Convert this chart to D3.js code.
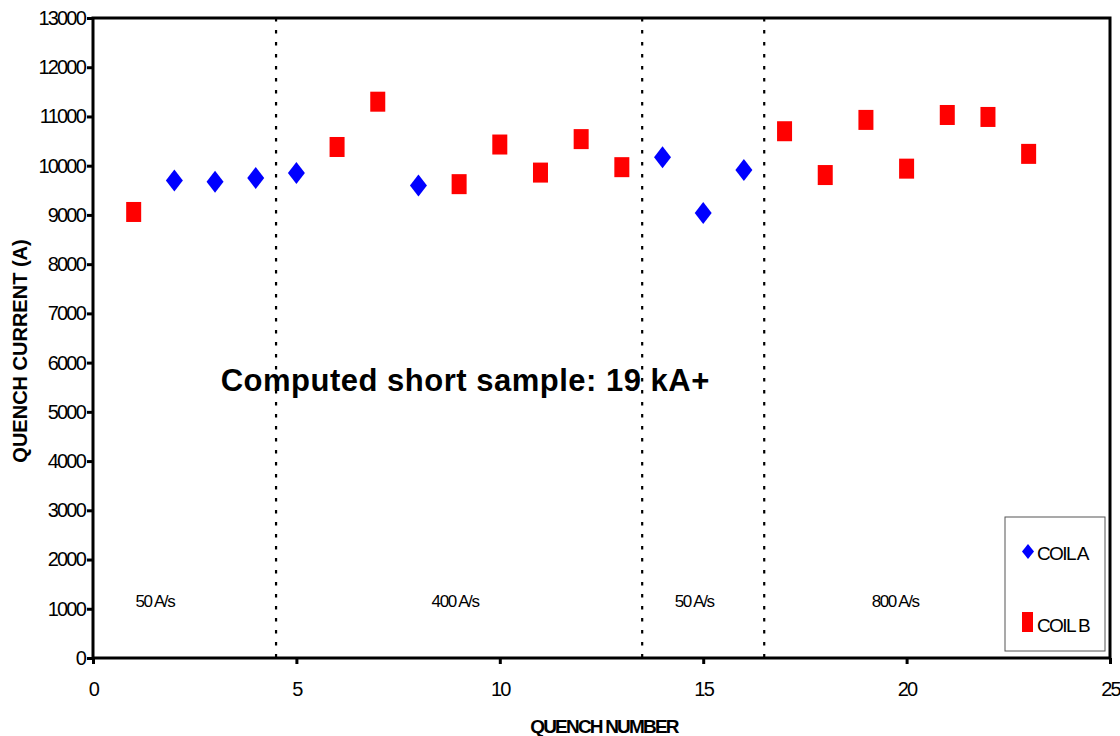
<!DOCTYPE html>
<html>
<head>
<meta charset="utf-8">
<script src="https://cdn.jsdelivr.net/npm/d3@7"></script>
<style>
  body { margin: 0; background: #fff; }
  svg text { font-family: "Liberation Sans", Arial, sans-serif; }
</style>
</head>
<body>
<div id="chart"></div>
<script>
// quench data
const coilA = [
  { n: 2, i: 9700 }, { n: 3, i: 9675 }, { n: 4, i: 9750 }, { n: 5, i: 9850 },
  { n: 8, i: 9600 }, { n: 14, i: 10170 }, { n: 15, i: 9040 }, { n: 16, i: 9910 }
];
const coilB = [
  { n: 1, i: 9060 }, { n: 6, i: 10380 }, { n: 7, i: 11300 }, { n: 9, i: 9625 },
  { n: 10, i: 10430 }, { n: 11, i: 9860 }, { n: 12, i: 10540 }, { n: 13, i: 9970 },
  { n: 17, i: 10700 }, { n: 18, i: 9810 }, { n: 19, i: 10930 }, { n: 20, i: 9940 },
  { n: 21, i: 11030 }, { n: 22, i: 10990 }, { n: 23, i: 10240 }
];
const rampBreaks = [4.5, 13.5, 16.5];
const rampLabels = [
  { x: 1.52, label: "50 A/s" }, { x: 8.9, label: "400 A/s" },
  { x: 14.78, label: "50 A/s" }, { x: 19.72, label: "800 A/s" }
];
const xTicks = [0, 5, 10, 15, 20, 25];
const yTicks = d3.range(0, 13001, 1000);

(function () {
  const W = 1120, H = 736;
  const margin = { top: 18, right: 10, bottom: 78, left: 93 };
  const width = W - margin.left - margin.right;
  const height = H - margin.top - margin.bottom;

  const svg = d3.select("#chart").append("svg")
    .attr("width", W).attr("height", H);
  const g = svg.append("g")
    .attr("transform", `translate(${margin.left},${margin.top})`);

  const x = d3.scaleLinear().domain([0, 25]).range([0, width]);
  const y = d3.scaleLinear().domain([0, 13000]).range([height, 0]);

  // dotted ramp-rate separators
  g.selectAll(".sep").data(rampBreaks).enter().append("line")
    .attr("x1", d => x(d)).attr("x2", d => x(d))
    .attr("y1", 0).attr("y2", height)
    .attr("stroke", "#000").attr("stroke-width", 2.2)
    .attr("stroke-dasharray", "3.5,8.5");

  // axes
  const yAxis = g.append("g")
    .call(d3.axisLeft(y).tickValues(yTicks).tickFormat(d3.format("d"))
      .tickSize(6).tickSizeOuter(0).tickPadding(2));
  yAxis.select(".domain").remove();
  yAxis.selectAll("line").attr("stroke-width", 3);
  yAxis.selectAll("text")
    .attr("font-size", "20px").attr("letter-spacing", "-1.8px").attr("fill", "#000");

  const xAxis = g.append("g").attr("transform", `translate(0,${height})`)
    .call(d3.axisBottom(x).tickValues(xTicks).tickSize(6).tickSizeOuter(0).tickPadding(18));
  xAxis.select(".domain").remove();
  xAxis.selectAll("line").attr("stroke-width", 3);
  xAxis.selectAll("text")
    .attr("font-size", "20px").attr("letter-spacing", "-1.8px").attr("fill", "#000");

  // frame
  g.append("rect").attr("x", 0).attr("y", 0)
    .attr("width", width).attr("height", height)
    .attr("fill", "none").attr("stroke", "#000").attr("stroke-width", 3);

  // ramp labels
  g.selectAll(".ramp").data(rampLabels).enter().append("text")
    .attr("x", d => x(d.x)).attr("y", y(1000) - 1.5)
    .attr("text-anchor", "middle")
    .attr("font-size", "17px").attr("letter-spacing", "-1.4px")
    .text(d => d.label);

  // annotation
  g.append("text")
    .attr("x", x(9.15)).attr("y", 391 - margin.top)
    .attr("text-anchor", "middle")
    .attr("font-size", "31px").attr("font-weight", "bold").attr("letter-spacing", "0.5px")
    .text("Computed short sample: 19 kA+");

  // markers
  const diamond = (cx, cy, w, h) =>
    `M${cx},${cy - h / 2}L${cx + w / 2},${cy}L${cx},${cy + h / 2}L${cx - w / 2},${cy}Z`;

  g.selectAll(".coilB").data(coilB).enter().append("rect")
    .attr("x", d => x(d.n) - 7.5).attr("y", d => y(d.i) - 10)
    .attr("width", 15).attr("height", 20)
    .attr("fill", "#ff0000");

  g.selectAll(".coilA").data(coilA).enter().append("path")
    .attr("d", d => diamond(x(d.n), y(d.i), 17, 22))
    .attr("fill", "#0000ff");

  // legend
  const legend = svg.append("g").attr("transform", "translate(1005,517)");
  legend.append("rect").attr("width", 100).attr("height", 134)
    .attr("fill", "#fff").attr("stroke", "#555").attr("stroke-width", 1);
  legend.append("path").attr("d", diamond(23, 34.5, 12, 15)).attr("fill", "#0000ff");
  legend.append("text").attr("x", 32).attr("y", 43)
    .attr("font-size", "19px").attr("letter-spacing", "-1.6px").text("COIL A");
  legend.append("rect").attr("x", 17).attr("y", 95).attr("width", 11).attr("height", 20)
    .attr("fill", "#ff0000");
  legend.append("text").attr("x", 32).attr("y", 115)
    .attr("font-size", "19px").attr("letter-spacing", "-1.6px").text("COIL B");

  // axis titles
  svg.append("text")
    .attr("transform", "translate(27,351) rotate(-90)")
    .attr("text-anchor", "middle")
    .attr("font-size", "20px").attr("font-weight", "bold")
    .text("QUENCH CURRENT (A)");

  svg.append("text")
    .attr("x", 604).attr("y", 733)
    .attr("text-anchor", "middle")
    .attr("font-size", "19px").attr("font-weight", "bold").attr("letter-spacing", "-1.8px")
    .text("QUENCH NUMBER");
})();
</script>
</body>
</html>
